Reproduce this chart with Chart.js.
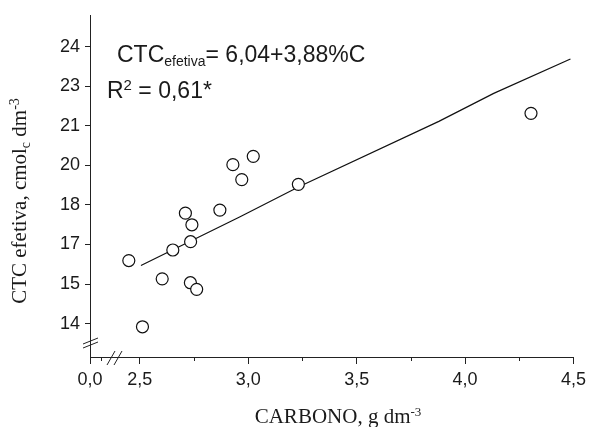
<!DOCTYPE html>
<html>
<head>
<meta charset="utf-8">
<script src="https://cdn.jsdelivr.net/npm/chart.js@4.4.0/dist/chart.umd.min.js"></script>
<style>
html,body{margin:0;padding:0;background:#fff}
#wrap{width:591px;height:427px}
</style>
</head>
<body>
<div id="wrap"><canvas id="c" width="591" height="427"></canvas></div>
<script>
// values
const carbono=[2.449,2.512,2.603,2.652,2.710,2.740,2.734,2.733,2.762,2.869,2.929,3.023,2.970,3.231,4.304];
const ctcEfetiva=[16.28,13.89,15.62,16.66,17.99,17.57,16.96,15.48,15.24,18.10,19.74,20.04,19.20,19.03,21.59];
// fitted line as drawn
const fitX=[2.505,2.96,3.236,3.879,4.132,4.486];
const fitY=[16.10,17.85,18.95,21.30,22.31,23.55];

const xTickValues=[2.27,2.5,3.0,3.5,4.0,4.5];
const xTickLabels=['0,0','2,5','3,0','3,5','4,0','4,5'];
const xMinorTicks=[2.32,2.75,3.25,3.75,4.25];
const yTickValues=[14,15.43,16.86,18.29,19.71,21.14,22.57,24];
const yTickLabels=['14','15','17','18','20','21','23','24'];

const SANS='"Liberation Sans", Arial, sans-serif';
const SERIF='"Liberation Serif", "Times New Roman", serif';
const INK='#1a1a1a';

function richWidth(ctx,parts,family){
  let w=0;
  parts.forEach(p=>{ctx.font=p.size+'px '+family;w+=ctx.measureText(p.t).width;});
  return w;
}
function drawRich(ctx,parts,x,y,family){
  let cx=x;
  parts.forEach(p=>{
    ctx.font=p.size+'px '+family;
    ctx.fillText(p.t,cx,y+(p.dy||0));
    cx+=ctx.measureText(p.t).width;
  });
}

const extras={
  id:'extras',
  afterDraw(chart){
    const ctx=chart.ctx, xs=chart.scales.x, ys=chart.scales.y;
    const axisY=ys.bottom, axisX=xs.left;
    ctx.save();
    ctx.strokeStyle='#222';ctx.lineWidth=1;
    // minor ticks on x
    xMinorTicks.forEach(v=>{
      const px=Math.round(xs.getPixelForValue(v))+0.5;
      ctx.beginPath();ctx.moveTo(px,axisY);ctx.lineTo(px,axisY+4);ctx.stroke();
    });
    // axis breaks
    ctx.beginPath();
    ctx.moveTo(axisX-7,axisY-9);ctx.lineTo(axisX+8,axisY-15);
    ctx.moveTo(axisX-7,axisY-13);ctx.lineTo(axisX+8,axisY-19);
    const bx=axisX+17;
    ctx.moveTo(bx,axisY+8);ctx.lineTo(bx+8,axisY-6);
    ctx.moveTo(bx+7,axisY+8);ctx.lineTo(bx+15,axisY-6);
    ctx.stroke();

    ctx.fillStyle=INK;ctx.textBaseline='alphabetic';ctx.textAlign='left';
    // equation
    drawRich(ctx,[{t:'CTC',size:23},{t:'efetiva',size:14,dy:4},{t:'= 6,04+3,88%C',size:23}],117,62,SANS);
    drawRich(ctx,[{t:'R',size:23},{t:'2',size:15,dy:-8},{t:' = 0,61*',size:23}],107,98,SANS);

    // x title
    const xt=[{t:'CARBONO, g dm',size:21},{t:'-3',size:13,dy:-7}];
    drawRich(ctx,xt,338-richWidth(ctx,xt,SERIF)/2,423,SERIF);
    // y title
    const yt=[{t:'CTC efetiva, cmol',size:21},{t:'c',size:14,dy:4},{t:' dm',size:21},{t:'-3',size:14,dy:-7}];
    ctx.translate(26,201);ctx.rotate(-Math.PI/2);
    drawRich(ctx,yt,-richWidth(ctx,yt,SERIF)/2,0,SERIF);
    ctx.restore();
  }
};

new Chart(document.getElementById('c'),{
  type:'scatter',
  data:{
    datasets:[
      {
        data:carbono.map((x,i)=>({x,y:ctcEfetiva[i]})),
        pointRadius:6,pointHoverRadius:6,
        pointBorderWidth:1.2,
        borderColor:'#111',backgroundColor:'#fff',
        order:0
      },
      {
        data:fitX.map((x,i)=>({x,y:fitY[i]})),
        showLine:true,pointRadius:0,
        borderColor:'#111',borderWidth:1.2,
        order:1
      }
    ]
  },
  options:{
    responsive:false,
    animation:false,
    devicePixelRatio:1,
    layout:{padding:{top:13,right:16,left:0,bottom:0}},
    plugins:{legend:{display:false},tooltip:{enabled:false}},
    scales:{
      x:{
        type:'linear',position:'bottom',min:2.27,max:4.5,
        afterBuildTicks(s){s.ticks=xTickValues.map(v=>({value:v}));},
        afterFit(s){s.height=70;},
        ticks:{callback:(v,i)=>xTickLabels[i],font:{family:SANS,size:18},color:INK,padding:5,maxRotation:0,autoSkip:false},
        grid:{drawOnChartArea:false,tickLength:7,color:'#222'},
        border:{color:'#222',width:1}
      },
      y:{
        type:'linear',min:12.8,max:25.11,
        afterBuildTicks(s){s.ticks=yTickValues.map(v=>({value:v}));},
        afterFit(s){s.width=90;},
        ticks:{callback:(v,i)=>yTickLabels[i],font:{family:SANS,size:18},color:INK,padding:5,autoSkip:false},
        grid:{drawOnChartArea:false,tickLength:5,color:'#222'},
        border:{color:'#222',width:1}
      }
    }
  },
  plugins:[extras]
});
</script>
</body>
</html>
